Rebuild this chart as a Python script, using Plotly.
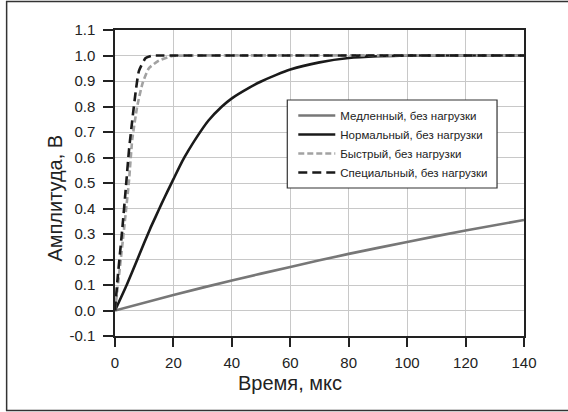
import plotly.graph_objects as go

# ---- data ----
slow_t = [0, 20, 40, 60, 80, 100, 120, 140]
slow_v = [0.0, 0.061, 0.118, 0.171, 0.222, 0.269, 0.314, 0.355]

normal_t = [0, 4, 8, 12, 14, 16, 18, 20, 23, 25, 28, 32, 36.6, 40, 46, 50, 55, 60, 70, 80, 90, 100, 110, 140]
normal_v = [0.0, 0.1, 0.21, 0.32, 0.37, 0.42, 0.468, 0.515, 0.585, 0.625, 0.68, 0.745, 0.8, 0.832, 0.874, 0.898, 0.923, 0.945, 0.973, 0.99, 0.997, 1.0, 1.0, 1.0]

fast_t = [0, 1.4, 3.1, 4.8, 5.9, 7.6, 9.4, 11.6, 15, 19.6, 25, 140]
fast_v = [0.0, 0.14, 0.32, 0.51, 0.67, 0.80, 0.89, 0.95, 0.98, 0.998, 1.0, 1.0]

special_t = [0, 0.8, 2.5, 3.7, 4.8, 5.9, 7.1, 8.2, 10.5, 12.8, 15, 140]
special_v = [0.0, 0.114, 0.32, 0.48, 0.63, 0.745, 0.86, 0.94, 0.99, 1.0, 1.0, 1.0]

names = ["Медленный, без нагрузки", "Нормальный, без нагрузки",
         "Быстрый, без нагрузки", "Специальный, без нагрузки"]

x_ticks = [0, 20, 40, 60, 80, 100, 120, 140]
y_ticks = [-0.1, 0.0, 0.1, 0.2, 0.3, 0.4, 0.5, 0.6, 0.7, 0.8, 0.9, 1.0, 1.1]
y_labels = ["-0.1", "0.0", "0.1", "0.2", "0.3", "0.4", "0.5", "0.6", "0.7", "0.8", "0.9", "1.0", "1.1"]

x_title = "Время, мкс"
y_title = "Амплитуда, В"

# ---- figure ----
W, H = 568, 412
ML, MR, MT, MB = 114.5, 44, 30, 76
PW, PH = W - ML - MR, H - MT - MB

FONT = "Arial, Liberation Sans, sans-serif"
TXT = "#222222"

fig = go.Figure()
series = [
    (slow_t, slow_v, "#777777", "solid"),
    (normal_t, normal_v, "#1a1a1a", "solid"),
    (fast_t, fast_v, "#a2a2a2", "6px,3px"),
    (special_t, special_v, "#1a1a1a", "9px,5px"),
]
for (t, v, c, d), n in zip(series, names):
    fig.add_trace(go.Scatter(x=t, y=v, mode="lines", name=n,
                             line=dict(color=c, width=2.6, dash=d, shape="spline", smoothing=0.5)))


def px_to_paper_x(px):
    return (px - ML) / PW


def px_to_paper_y(py):
    return (H - MB - py) / PH


# outer frame
fig.add_shape(type="rect", xref="paper", yref="paper",
              x0=px_to_paper_x(6), x1=px_to_paper_x(574),
              y0=px_to_paper_y(410.5), y1=px_to_paper_y(1.5),
              line=dict(color="#333333", width=1.5), fillcolor="rgba(0,0,0,0)", layer="below")
# legend box
fig.add_shape(type="rect", xref="paper", yref="paper",
              x0=px_to_paper_x(287), x1=px_to_paper_x(497),
              y0=px_to_paper_y(188), y1=px_to_paper_y(100),
              line=dict(color="#333333", width=1.2), fillcolor="white", layer="above")

axis_common = dict(showline=True, linecolor=TXT, linewidth=1.5, mirror=True,
                   showgrid=True, gridcolor="#c8c8c8", gridwidth=1,
                   ticks="outside", tickcolor=TXT, tickwidth=1.5,
                   zeroline=False, tickfont=dict(family=FONT, size=15, color=TXT))

fig.update_layout(
    width=W, height=H,
    margin=dict(l=ML, r=MR, t=MT, b=MB),
    paper_bgcolor="white", plot_bgcolor="white",
    font=dict(family=FONT, color=TXT),
    xaxis=dict(range=[0, 140], tickvals=x_ticks, ticklen=9, ticklabelstandoff=3, **axis_common),
    yaxis=dict(range=[-0.1, 1.1], tickvals=y_ticks, ticktext=y_labels, ticklen=10,
               ticklabelstandoff=5, **axis_common),
    legend=dict(x=px_to_paper_x(293), y=px_to_paper_y(101), xanchor="left", yanchor="top",
                bgcolor="rgba(0,0,0,0)", borderwidth=0, itemwidth=37,
                font=dict(family=FONT, size=11.5, color=TXT)),
    showlegend=True,
    annotations=[
        dict(text=x_title, xref="paper", yref="paper", x=px_to_paper_x(290), y=px_to_paper_y(383),
             xanchor="center", yanchor="middle", showarrow=False,
             font=dict(family=FONT, size=20, color=TXT)),
        dict(text=y_title, xref="paper", yref="paper", x=px_to_paper_x(54), y=px_to_paper_y(198),
             xanchor="center", yanchor="middle", showarrow=False, textangle=-90,
             font=dict(family=FONT, size=20, color=TXT)),
    ],
)

fig.write_html("out.html", config={"displayModeBar": False},
               post_script="document.body.style.margin='0';")
